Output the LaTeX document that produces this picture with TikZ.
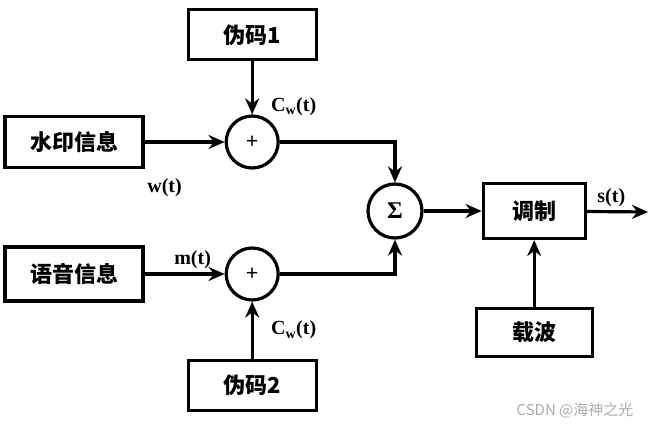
\documentclass[tikz,border=0pt]{standalone}
\usepackage{fontspec}
\setmainfont{Liberation Serif}
\newfontfamily\cjk{Noto Sans CJK SC}
\usetikzlibrary{positioning,arrows.meta}

\tikzset{
  block/.style={draw, line width=3.2pt, minimum width=128pt, minimum height=50pt,
    font=\cjk\bfseries\fontsize{22}{24}\selectfont},
  sumnode/.style={draw, circle, line width=3.2pt, minimum size=52pt, inner sep=0pt,
    font=\bfseries\fontsize{22}{24}\selectfont},
  sig/.style={font=\bfseries\fontsize{20}{22}\selectfont},
  every edge/.style={draw, line width=3.2pt},
}

\begin{document}
\begin{tikzpicture}[->, >={Stealth[length=16pt,width=14pt]}, line width=3.2pt, x=1pt, y=1pt]
		\useasboundingbox (0,0) rectangle (658,-428);

		\node[block, minimum width=138pt, minimum height=51pt] (wm) at (74,-142) {水印信息};
		\node[sumnode, right=80pt of wm] (add1) {+};
		\node[block, above=53pt of add1] (pn1) {伪码1};

		\node[block, minimum width=138pt, minimum height=54pt] (voice) at (74,-274) {语音信息};
		\node[sumnode, right=80pt of voice] (add2) {+};
		\node[block, below=57pt of add2] (pn2) {伪码2};

		\node[sumnode, minimum size=54pt, font=\bfseries\fontsize{24}{26}\selectfont] (sigma) at (395,-211) {Σ};
		\node[block, minimum width=102pt, minimum height=55pt, right=58pt of sigma] (mod) {调制};
		\node[block, minimum width=116pt, minimum height=48pt, below=67pt of mod] (carrier) {载波};
		\coordinate (out) at (648,-212);

		\path (wm) edge node[sig, pos=0.25, below=32pt] {w(t)} (add1);
		\path (pn1) edge node[sig, pos=0.85, right=14pt] {C\textsubscript{w}(t)} (add1);

		\path (voice) edge node[sig, pos=0.6, above=0pt] {m(t)} (add2);
		\path (pn2) edge node[sig, pos=0.5, right=14pt] {C\textsubscript{w}(t)} (add2);

		\draw[line width=3.2pt] (add1) -| (sigma);
		\draw[line width=3.2pt] (add2) -| (sigma);

		\path (sigma) edge (mod);
		\path (carrier) edge (mod);
		\path (mod) edge node[sig, pos=0.4, above=0pt] {s(t)} (out);

		\node[text=gray!65, font=\cjk\fontsize{15}{17}\selectfont] (mark) at (575,-410) {CSDN @海神之光};
	\end{tikzpicture}
\end{document}
